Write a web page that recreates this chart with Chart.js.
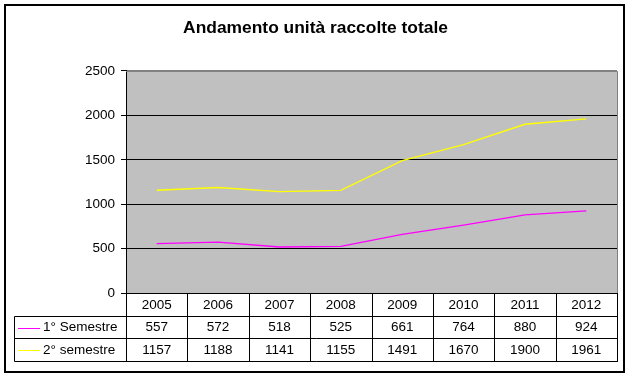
<!DOCTYPE html>
<html>
<head>
<meta charset="utf-8">
<script src="https://cdn.jsdelivr.net/npm/chart.js@4"></script>
<style>
html,body{margin:0;padding:0;background:#fff;}
canvas{display:block;}
</style>
</head>
<body>
<canvas id="c" width="631" height="384"></canvas>
<script>
const years = ['2005','2006','2007','2008','2009','2010','2011','2012'];
const sem1 = [557, 572, 518, 525, 661, 764, 880, 924];
const sem2 = [1157, 1188, 1141, 1155, 1491, 1670, 1900, 1961];
const seriesNames = ['1° Semestre', '2° semestre'];
const seriesColors = ['#FF00FF', '#FFFF00'];
const yTicks = [0, 500, 1000, 1500, 2000, 2500];

const FONT = '"Liberation Sans", Arial, sans-serif';
const TXT = 13.5;

const frame = {
  id: 'frame',
  beforeDraw(chart) {
    const {ctx, chartArea: a} = chart;
    ctx.save();
    ctx.fillStyle = '#fff';
    ctx.fillRect(0, 0, chart.width, chart.height);
    ctx.fillStyle = '#C0C0C0';
    ctx.fillRect(a.left, a.top, a.right - a.left, a.bottom - a.top);
    ctx.restore();
  },
  afterDraw(chart) {
    const {ctx, chartArea: a} = chart;
    const x = chart.scales.x;
    ctx.save();
    ctx.strokeStyle = '#808080';
    ctx.lineWidth = 1;
    ctx.beginPath();
    ctx.moveTo(a.left, a.top + 0.5); ctx.lineTo(a.right + 0.5, a.top + 0.5);
    ctx.lineTo(a.right + 0.5, a.bottom);
    ctx.stroke();
    const rowH = 22.5;
    const y0 = a.bottom;
    const legendLeft = 14.5;
    const n = years.length;
    const colW = (a.right - a.left) / n;
    ctx.strokeStyle = '#000';
    ctx.lineWidth = 1;
    ctx.beginPath();
    ctx.moveTo(a.left, Math.round(y0) + 0.5); ctx.lineTo(a.right + 1, Math.round(y0) + 0.5);
    for (let r = 1; r <= 3; r++) {
      const yy = Math.round(y0 + r * rowH) + 0.5;
      ctx.moveTo(legendLeft, yy); ctx.lineTo(a.right + 1, yy);
    }
    for (let i = 0; i <= n; i++) {
      const xx = Math.round(a.left + i * colW) + 0.5;
      ctx.moveTo(xx, y0); ctx.lineTo(xx, Math.round(y0 + 3 * rowH) + 0.5);
    }
    ctx.moveTo(legendLeft, Math.round(y0 + rowH) + 0.5);
    ctx.lineTo(legendLeft, Math.round(y0 + 3 * rowH) + 0.5);
    ctx.stroke();

    ctx.fillStyle = '#000';
    ctx.font = TXT + 'px ' + FONT;
    ctx.textAlign = 'center';
    ctx.textBaseline = 'middle';
    years.forEach((yr, i) => {
      ctx.fillText(yr, x.getPixelForValue(i), y0 + rowH * 0.5 + 1);
    });
    const rows = [sem1, sem2];
    rows.forEach((vals, r) => {
      const cy = y0 + rowH * (r + 1.5) + 1;
      vals.forEach((v, i) => {
        ctx.fillText(String(v), x.getPixelForValue(i), cy);
      });
      ctx.strokeStyle = seriesColors[r];
      ctx.beginPath();
      ctx.moveTo(18, Math.round(cy) + 0.5); ctx.lineTo(40, Math.round(cy) + 0.5);
      ctx.stroke();
      ctx.textAlign = 'left';
      ctx.fillText(seriesNames[r], 43, cy);
      ctx.textAlign = 'center';
    });

    ctx.strokeStyle = '#000';
    ctx.lineWidth = 2;
    ctx.strokeRect(5, 5, 619, 367);
    ctx.restore();
  }
};

new Chart(document.getElementById('c'), {
  type: 'line',
  data: {
    labels: years,
    datasets: [
      {label: seriesNames[0], data: sem1, borderColor: seriesColors[0], borderWidth: 1.3, pointRadius: 0, tension: 0, fill: false},
      {label: seriesNames[1], data: sem2, borderColor: seriesColors[1], borderWidth: 1.3, pointRadius: 0, tension: 0, fill: false}
    ]
  },
  options: {
    responsive: false,
    animation: false,
    devicePixelRatio: 1,
    layout: {padding: {left: 14, right: 14, top: 0, bottom: 91}},
    plugins: {
      legend: {display: false},
      tooltip: {enabled: false},
      title: {
        display: true,
        text: 'Andamento unità raccolte totale',
        color: '#000',
        font: {family: FONT, size: 17.4, weight: 'bold'},
        padding: {top: 18, bottom: 32.1}
      }
    },
    scales: {
      x: {
        display: false,
        offset: true
      },
      y: {
        min: 0,
        max: 2500,
        afterFit(s) { s.width = 112; },
        afterBuildTicks(s) { s.ticks = yTicks.map(v => ({value: v})); },
        ticks: {
          color: '#000',
          font: {family: FONT, size: TXT},
          padding: 6,
          callback: (v) => String(v)
        },
        grid: {
          color: (c) => c.tick && c.tick.value === 2500 ? '#808080' : '#000',
          lineWidth: 1,
          drawTicks: true,
          tickLength: 5,
          tickColor: '#000'
        },
        border: {display: true, color: '#000', width: 1}
      }
    }
  },
  plugins: [frame]
});
</script>
</body>
</html>
